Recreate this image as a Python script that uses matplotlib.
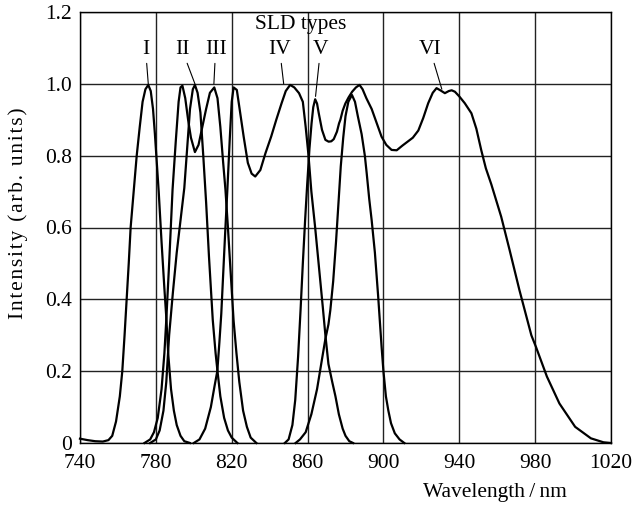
import matplotlib
matplotlib.use("Agg")
import matplotlib.pyplot as plt

# SLD type I
wl_1 = [740, 744, 748, 752, 755, 757, 759, 761, 762.3, 763.5, 764.6, 765.7, 766.7, 768.3,
        769.9, 771.5, 773, 774.5, 776, 777.3, 778.5, 779.5, 780.5, 781.5, 783, 784.5,
        785.5, 786.5, 788, 789.5, 791, 793, 795, 798]
in_1 = [0.012, 0.008, 0.005, 0.004, 0.008, 0.02, 0.06, 0.13, 0.2, 0.3, 0.4, 0.5, 0.6, 0.7,
        0.8, 0.88, 0.95, 0.985, 0.997, 0.98, 0.93, 0.86, 0.78, 0.7, 0.56, 0.43,
        0.35, 0.25, 0.15, 0.09, 0.05, 0.02, 0.005, 0]

# double-humped curve (793 / 811)
wl_2 = [774, 777, 779, 781, 783, 784.5, 785.5, 787, 788.8, 790.5, 792, 793, 794, 795.5,
        797, 798.5, 800.6, 802.5, 804.5, 806.5, 808.5, 810.8, 812.5, 814, 815.5, 816.7,
        818, 819.5, 821, 822.5, 824, 826, 828, 830, 833]
in_2 = [0, 0.01, 0.03, 0.07, 0.15, 0.25, 0.343, 0.5, 0.705, 0.84, 0.95, 0.99, 0.995, 0.96,
        0.9, 0.85, 0.81, 0.83, 0.88, 0.93, 0.975, 0.99, 0.96, 0.88, 0.78, 0.705,
        0.6, 0.47, 0.34, 0.25, 0.17, 0.09, 0.045, 0.015, 0]

# SLD type II (peak 801)
wl_3 = [777, 780, 782, 784, 785.5, 787, 789, 791, 793, 795, 796.5, 798, 799.5, 800.6,
        802, 803.5, 805, 806.5, 808, 810, 811.5, 812.5, 814, 816, 818, 820, 823]
in_3 = [0, 0.01, 0.035, 0.09, 0.17, 0.3, 0.42, 0.53, 0.62, 0.71, 0.82, 0.93, 0.985, 0.997,
        0.975, 0.92, 0.8, 0.67, 0.52, 0.343, 0.25, 0.2, 0.13, 0.07, 0.035, 0.015, 0]

# SLD type IV (peaks 821 / 851)
wl_4 = [800, 803, 806, 809, 811, 812.4, 813.5, 814.5, 815.5, 816.5, 817.7, 819, 820, 821,
        822.7, 824.5, 826.3, 828.5, 830.5, 832.4, 835.1, 837.8, 840.8, 843.5, 846.3,
        848.5, 850.8, 853, 855.5, 857.5, 859, 860.5, 862, 864, 866, 868, 869.4, 871,
        873, 874.7, 876.5, 878.5, 880, 882, 884]
in_4 = [0, 0.01, 0.04, 0.1, 0.16, 0.2, 0.28, 0.36, 0.47, 0.58, 0.705, 0.85, 0.95, 0.99,
        0.983, 0.918, 0.853, 0.78, 0.75, 0.742, 0.76, 0.807, 0.853, 0.9, 0.946,
        0.98, 0.997, 0.99, 0.974, 0.95, 0.88, 0.8, 0.7, 0.6, 0.49, 0.38, 0.3, 0.22,
        0.17, 0.13, 0.08, 0.04, 0.02, 0.005, 0]

# SLD types V / VI (broadband)
wl_5 = [848, 850, 852, 853.5, 855, 856.3, 857.5, 858.7, 859.8, 861, 862.1, 863, 864, 865,
        865.9, 867.6, 869.4, 871.1, 872.5, 873.8, 875.5, 876.6, 877.3, 878.5, 879.9,
        881.6, 883.5, 885.5, 887.4, 889, 891, 893.8, 896.5, 899, 901.5, 904.3, 907,
        910, 913, 915.5, 918.4, 921, 923.6, 926, 928, 930, 932.4, 934.5, 936, 937.7,
        940, 942.9, 946.4, 949, 951.6, 954, 956.9, 959.5, 962.1, 966.5, 971.7, 976.1,
        978, 980.4, 986.2, 992.8, 1001.1, 1009.4, 1016, 1020]
in_5 = [0, 0.01, 0.05, 0.12, 0.24, 0.37, 0.5, 0.62, 0.72, 0.82, 0.89, 0.935, 0.957, 0.945,
        0.918, 0.872, 0.844, 0.839, 0.84, 0.846, 0.867, 0.89, 0.9, 0.925, 0.945,
        0.962, 0.978, 0.99, 0.997, 0.985, 0.96, 0.93, 0.89, 0.853, 0.83, 0.816, 0.815,
        0.828, 0.84, 0.85, 0.87, 0.905, 0.946, 0.975, 0.988, 0.982, 0.974, 0.98, 0.982, 0.978,
        0.965, 0.946, 0.918, 0.875, 0.815, 0.765, 0.72, 0.675, 0.63, 0.538, 0.426, 0.338,
        0.3, 0.268, 0.185, 0.11, 0.045, 0.013, 0.002, 0]

# narrow curve (peak 883)
wl_6 = [853.7, 856, 859, 862, 865, 867.5, 869.4, 871, 872, 873.5, 875, 876.4, 877.5, 878.8,
        880, 881.5, 883.4, 885, 886.5, 888.5, 890.2, 891.2, 892.5, 893.8, 895.5, 897.2,
        899, 900, 901.3, 902.6, 904, 906, 908.5, 911]
in_6 = [0, 0.01, 0.03, 0.08, 0.15, 0.23, 0.29, 0.33, 0.37, 0.45, 0.56, 0.677, 0.77, 0.85,
        0.91, 0.95, 0.969, 0.95, 0.91, 0.86, 0.8, 0.75, 0.68, 0.62, 0.53, 0.41,
        0.27, 0.2, 0.13, 0.09, 0.055, 0.027, 0.01, 0]

curves = [(wl_1, in_1), (wl_2, in_2), (wl_3, in_3), (wl_4, in_4), (wl_5, in_5), (wl_6, in_6)]

# type labels: text position and the point each leader line goes to
type_names = ["I", "II", "III", "IV", "V", "VI"]
text_x = [774.6, 793.8, 811.5, 845.3, 866.8, 924.6]
tip_x = [776.0, 800.6, 810.6, 847.4, 864.2, 930.8]
tip_y = [1.0, 1.0, 1.0, 1.0, 0.965, 0.985]

x_ticks = [740, 780, 820, 860, 900, 940, 980, 1020]
y_ticks = [0, 0.2, 0.4, 0.6, 0.8, 1.0, 1.2]
y_tick_labels = ["0", "0.2", "0.4", "0.6", "0.8", "1.0", "1.2"]

plt.rcParams["font.family"] = ["Liberation Serif", "DejaVu Serif"]
fs = 15.5

fig = plt.figure(figsize=(6.33, 5.13), dpi=100)
ax = fig.add_axes([80 / 633, 70 / 513, 531 / 633, 431 / 513])

for wl, inten in curves:
    ax.plot(wl, inten, color="black", lw=1.6, solid_joinstyle="round", clip_on=False, zorder=3)

ax.set_xlim(740, 1020)
ax.set_ylim(0, 1.2)
ax.set_xticks(x_ticks)
ax.set_yticks(y_ticks)
ax.set_yticklabels(y_tick_labels)
ax.tick_params(length=0, labelsize=fs, colors="black")
ax.tick_params(axis="x", pad=8)
ax.tick_params(axis="y", pad=6)
ax.grid(True, color="#222222", lw=1.0)
for s in ax.spines.values():
    s.set_color("black")
    s.set_linewidth(1.0)

for name, tx, px, py in zip(type_names, text_x, tip_x, tip_y):
    ax.annotate(name, xy=(px, py), xytext=(tx, 1.095), ha="center", va="center",
                fontsize=fs, zorder=4,
                arrowprops=dict(arrowstyle="-", lw=0.8, color="black", shrinkA=1, shrinkB=0))

ax.text(856.6, 1.164, "SLD types", ha="center", va="center", fontsize=fs)

# the y label in the source is set with wide letter spacing
ylab = "\u200a".join("Intensity (arb. units)")
fig.text(18 / 633, 1 - 213 / 513, ylab, rotation=90,
         ha="center", va="center", fontsize=fs)
fig.text(495 / 633, 1 - 493 / 513, "Wavelength\u2009/\u2009nm", ha="center", va="center",
         fontsize=fs)

fig.savefig("out.png", dpi=100)
